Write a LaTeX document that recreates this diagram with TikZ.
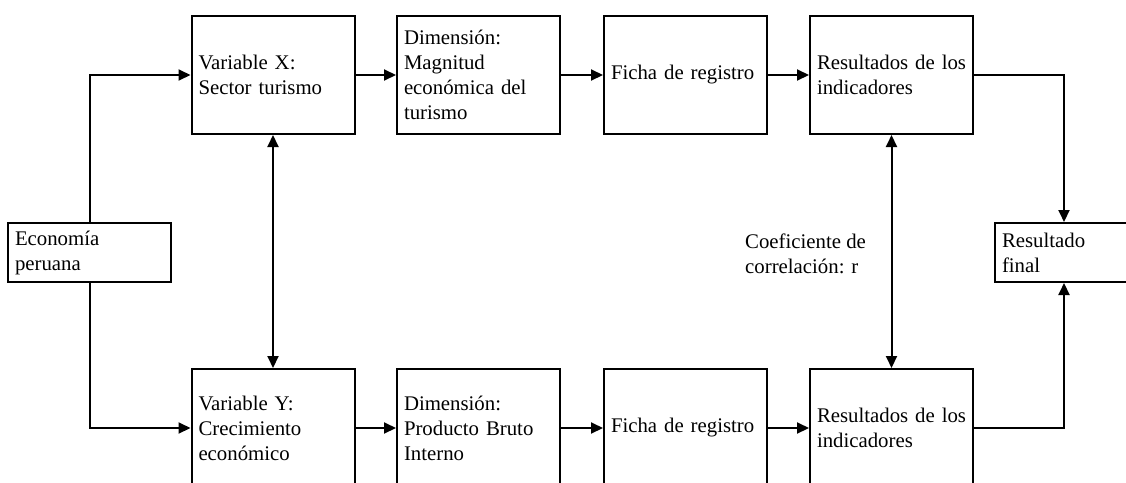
\documentclass[tikz,border=0pt]{standalone}
\usepackage{fontspec}
\setmainfont{Liberation Serif}
\usetikzlibrary{arrows.meta}
\begin{document}
\begin{tikzpicture}[x=1pt,y=-1pt,
  font=\fontsize{20.8}{25}\selectfont,
  box/.style={draw, line width=2pt, inner xsep=7pt, inner ysep=2pt,
    text width=149pt, align=left, minimum height=118pt, anchor=center},
  sbox/.style={box, minimum height=59pt},
  conn/.style={line width=2pt, -{Triangle[length=12pt,width=11pt]}},
  dconn/.style={line width=2pt, {Triangle[length=12pt,width=11pt]}-{Triangle[length=12pt,width=11pt]}}]
\useasboundingbox (0,0) rectangle (1126,482);
\clip (0,0) rectangle (1126,482);
% top row
\node[box] (varx) at (273,75) {Variable X:\\Sector turismo};
\node[box] (dimx) at (478.5,75) {Dimensión:\\Magnitud\\económica del\\turismo};
\node[box] (fichax) at (685.5,75) {Ficha de registro};
\node[box] (resx) at (891.5,75) {\mbox{Resultados de los}\\indicadores};
% bottom row
\node[box] (vary) at (273,428) {Variable Y:\\Crecimiento\\económico};
\node[box] (dimy) at (478.5,428) {Dimensión:\\Producto Bruto\\Interno};
\node[box] (fichay) at (685.5,428) {Ficha de registro};
\node[box] (resy) at (891.5,428) {\mbox{Resultados de los}\\indicadores};
% side boxes
\node[sbox] (econ) at (89.5,252.5) {Economía\\peruana};
\node[sbox] (final) at (1076.5,252.5) {Resultado\\final};
% label
\node[anchor=west, align=left, inner sep=0pt] (coef) at (745,254) {Coeficiente de\\correlación: r};
% connectors
\coordinate (fx) at (1064,0);
\draw[conn] (econ.north) |- (varx.west);
\draw[conn] (econ.south) |- (vary.west);
\draw[conn] (varx) -- (dimx);
\draw[conn] (dimx) -- (fichax);
\draw[conn] (fichax) -- (resx);
\draw[conn] (vary) -- (dimy);
\draw[conn] (dimy) -- (fichay);
\draw[conn] (fichay) -- (resy);
\draw[dconn] (varx.south) -- (vary.north);
\draw[dconn] (resx.south) -- (resy.north);
\draw[conn] (resx.east) -| (fx |- final.north);
\draw[conn] (resy.east) -| (fx |- final.south);
\end{tikzpicture}
\end{document}
